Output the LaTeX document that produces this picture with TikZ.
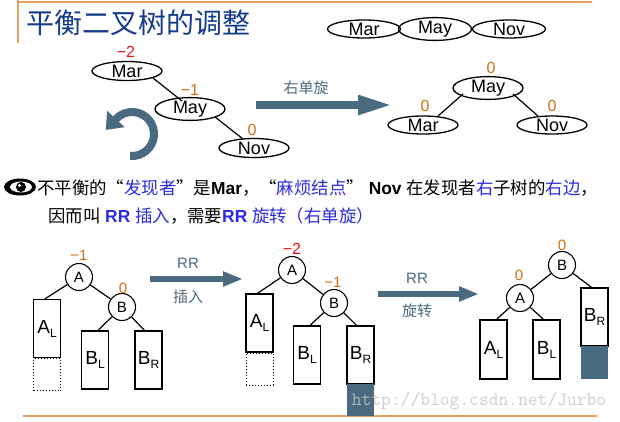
\documentclass[tikz,border=0pt]{standalone}
\usepackage{fontspec}
\setmainfont{Liberation Sans}
\newfontfamily\cjk{Noto Sans CJK SC}
\usetikzlibrary{arrows.meta,shapes.geometric}
\definecolor{slate}{HTML}{4A6A80}
\definecolor{rule}{HTML}{E3A060}
\definecolor{balc}{HTML}{D07010}
\definecolor{balr}{HTML}{EE1111}
\definecolor{titleblue}{HTML}{143C8C}
\definecolor{txtblue}{HTML}{2B2BE0}
\newcommand{\fs}[1]{\fontsize{#1}{#1}\selectfont}
\newcommand{\sub}[2]{#1\raisebox{-4pt}{\fs{12}#2}}
\tikzset{
  ell/.style={ellipse, draw, line width=1.3pt, minimum width=70pt, minimum height=19pt, inner sep=0pt, font=\fs{18}},
  cnode/.style={circle, draw, line width=1.1pt, minimum size=27pt, inner sep=0pt, font=\fs{15}},
  tbox/.style={draw, line width=1.3pt, minimum width=27pt, minimum height=58pt, inner sep=0pt, font=\fs{19}},
  dotbox/.style={draw, dotted, line width=1pt, minimum width=27pt, minimum height=32pt, inner sep=0pt},
  fillbox/.style={fill=slate, minimum width=27pt, inner sep=0pt},
  edge/.style={line width=1.2pt},
  bal/.style={font=\fs{15}, text=balc, inner sep=0pt},
  balred/.style={font=\fs{16}, text=balr, inner sep=0pt},
  lbl/.style={font=\fs{15}, text=slate, inner sep=0pt},
  bigarrow/.style={draw=slate, line width=8pt, -{Triangle[length=35pt,width=18pt]}},
  midarrow/.style={draw=slate, line width=6.5pt, -{Triangle[length=20pt,width=14pt]}},
}
\begin{document}
\begin{tikzpicture}[x=1pt,y=-1pt]
\useasboundingbox (0,0) rectangle (620,421);
% frame rules
\draw[rule, line width=2pt] (18,0) -- (18,43);
\draw[rule, line width=2pt] (18,2) -- (592,2);
\draw[rule, line width=2pt] (23,416) -- (597,416);
% title
\node[anchor=west, inner sep=0pt, text=titleblue, font=\cjk\fs{28}] (title) at (26,23) {平衡二叉树的调整};
% top right legend
\node[ell, minimum width=73pt, minimum height=18pt] (k1) at (364,29) {Mar};
\node[ell, minimum width=73pt, minimum height=18pt] (k2) at (435,29) {May};
\node[ell, minimum width=73pt, minimum height=18pt] (k3) at (509,29) {Nov};
% left top tree
\node[ell] (mar1) at (127,71) {Mar};
\node[ell] (may1) at (190,109) {May};
\node[ell] (nov1) at (254,148) {Nov};
\draw[edge] (153,78) -- (182,101);
\draw[edge] (215,117) -- (243,139);
\node[balred] (bm1) at (126,52) {−2};
\node[bal, font=\fs{16}] (bm2) at (190,90) {−1};
\node[bal, font=\fs{16}] (bm3) at (252,130) {0};
% right top tree
\node[ell, minimum height=18pt] (may2) at (488,88) {May};
\node[ell, minimum height=18pt] (mar2) at (423,125) {Mar};
\node[ell, minimum height=18pt] (nov2) at (552,125) {Nov};
\draw[edge] (463,94) -- (438,116);
\draw[edge] (513,94) -- (538,116);
\node[bal, font=\fs{16}] (bn1) at (491,68) {0};
\node[bal, font=\fs{16}] (bn2) at (425,106) {0};
\node[bal, font=\fs{16}] (bn3) at (552,106) {0};
% big arrow
\coordinate (ba1) at (256,105);
\coordinate (ba2) at (393,105);
\draw[bigarrow] (ba1) -- (ba2);
\node[lbl, font=\cjk\fs{15}] (rot) at (306,88) {右单旋};
% circular arrow
\coordinate (cst) at (130.1,155.9);
\draw[draw=slate, line width=8pt, -{Triangle[length=15pt,width=23pt]}] (cst) arc[start angle=-95, end angle=137, radius=22pt] -- ++(-10.2,11);
% eye
\fill[black] (20,187) ellipse[x radius=16pt, y radius=8.5pt];
\fill[white] (21,187) ellipse[x radius=11pt, y radius=5.5pt];
\fill[black] (21,187) circle[radius=5pt];
\fill[white] (19.5,185.5) circle[radius=1.6pt];
% explanation text
\node[anchor=west, inner sep=0pt, font=\fs{17.4}] (t1) at (37,188) {{\cjk 不平衡的“\textcolor{txtblue}{发现者}”是}\textbf{Mar}{\cjk ，“\textcolor{txtblue}{麻烦结点}”}\textbf{~Nov~}{\cjk 在发现者\textcolor{txtblue}{右}子树的\textcolor{txtblue}{右边}，}};
\node[anchor=west, inner sep=0pt, font=\fs{17.4}] (t2) at (48,216) {{\cjk 因而叫}~\textcolor{txtblue}{\textbf{RR}~{\cjk 插入}}{\cjk ，需要}\textcolor{txtblue}{\textbf{RR}~{\cjk 旋转（右单旋）}}};
% ---- bottom tree 1
\node[cnode] (A1) at (79,277) {A};
\node[cnode] (B1) at (122,307) {B};
\node[tbox] (AL1) at (47,328.5) {\sub{A}{L}};
\node[dotbox, anchor=north] (D1) at (AL1.south) {};
\node[tbox] (BL1) at (95,360) {\sub{B}{L}};
\node[tbox] (BR1) at (148.5,360) {\sub{B}{R}};
\draw[edge] (A1) -- ([xshift=-2pt]AL1.north);
\draw[edge] (A1) -- (B1);
\draw[edge] (B1) -- ([xshift=3pt]BL1.north);
\draw[edge] (B1) -- ([xshift=-4pt]BR1.north);
\node[bal] (bA1) at (79,255) {−1};
\node[bal] (bB1) at (123,288) {0};
% arrow 1
\coordinate (a1s) at (150,279);
\coordinate (a1e) at (243,279);
\draw[midarrow] (a1s) -- (a1e);
\node[lbl] (rr1) at (188,263) {RR};
\node[lbl, font=\cjk\fs{15}] (ins) at (188,297) {插入};
% ---- bottom tree 2
\node[cnode] (A2) at (292,270) {A};
\node[cnode] (B2) at (334,303) {B};
\node[tbox] (AL2) at (259.5,323) {\sub{A}{L}};
\node[dotbox, anchor=north] (D2) at (AL2.south) {};
\node[tbox] (BL2) at (307,355) {\sub{B}{L}};
\node[tbox] (BR2) at (360.5,355) {\sub{B}{R}};
\node[fillbox, minimum height=32pt, anchor=north] (F2) at ([yshift=0.65pt]BR2.south) {};
\draw[edge] (A2) -- ([xshift=-2pt]AL2.north);
\draw[edge] (A2) -- (B2);
\draw[edge] (B2) -- ([xshift=3pt]BL2.north);
\draw[edge] (B2) -- ([xshift=-4pt]BR2.north);
\node[balred] (bA2) at (292,249) {−2};
\node[bal] (bB2) at (333,282) {−1};
% arrow 2
\coordinate (a2s) at (378,294);
\coordinate (a2e) at (479,294);
\draw[midarrow] (a2s) -- (a2e);
\node[lbl] (rr2) at (417,278) {RR};
\node[lbl, font=\cjk\fs{15}] (rotb) at (417,311) {旋转};
% ---- bottom tree 3
\node[cnode] (B3) at (562,265) {B};
\node[cnode] (A3) at (520,298) {A};
\node[tbox] (BR3) at (594.5,317) {\sub{B}{R}};
\node[fillbox, minimum height=33pt, anchor=north] (F3) at ([yshift=0.65pt]BR3.south) {};
\node[tbox, minimum height=59pt] (AL3) at (493.5,349.5) {\sub{A}{L}};
\node[tbox, minimum height=59pt] (BL3) at (546.5,349.5) {\sub{B}{L}};
\draw[edge] (B3) -- (A3);
\draw[edge] (B3) -- ([xshift=-3pt]BR3.north);
\draw[edge] (A3) -- ([xshift=3pt]AL3.north);
\draw[edge] (A3) -- ([xshift=-3pt]BL3.north);
\node[bal] (bB3) at (562,245) {0};
\node[bal] (bA3) at (519,275) {0};
% watermark
\node[inner sep=0pt, font=\ttfamily\fs{19}, text=gray!45, opacity=0.85] (wm) at (479,401) {http://blog.csdn.net/Jurbo};
\end{tikzpicture}
\end{document}
